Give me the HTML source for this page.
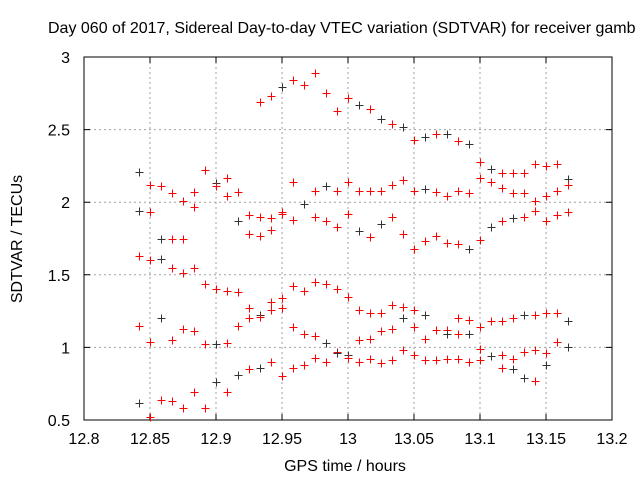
<!DOCTYPE html>
<html><head><meta charset="utf-8"><style>
html,body{margin:0;padding:0;background:#fff;width:640px;height:480px;overflow:hidden}
svg text{font-family:"Liberation Sans",sans-serif;font-size:16px;fill:#000}
</style></head><body>
<svg id="chart" width="640" height="480" xmlns="http://www.w3.org/2000/svg">
<text x="48" y="33">Day 060 of 2017, Sidereal Day-to-day VTEC variation (SDTVAR) for receiver gamb</text>
<g id="grid"></g>
<g id="axes"></g>
<g id="marks"></g>
<text x="345" y="471" text-anchor="middle">GPS time / hours</text>
<text transform="translate(22,239) rotate(-90)" text-anchor="middle">SDTVAR / TECUs</text>
</svg>
<script>
const xTicks=[12.8,12.85,12.9,12.95,13,13.05,13.1,13.15,13.2];
const xTickLabels=["12.8","12.85","12.9","12.95","13","13.05","13.1","13.15","13.2"];
const yTicks=[0.5,1,1.5,2,2.5,3];
const yTickLabels=["0.5","1","1.5","2","2.5","3"];
const startTime=12.8417;
const stepHours=0.008333;
const colValues=[
[2.21,1.94,1.63,1.15,0.62],[2.12,1.93,1.60,1.04,0.52],[2.11,1.75,1.61,1.20,0.64],[2.06,1.75,1.55,1.05,0.63],
[2.01,1.75,1.51,1.13,0.58],[2.07,1.97,1.55,1.11,0.69],[2.22,1.44,1.02,0.58],[2.13,2.11,1.40,1.02,0.76],
[2.17,2.04,1.39,1.03,0.69],[2.07,1.87,1.38,1.15,0.81],[1.91,1.78,1.27,1.20,0.85],[2.69,1.90,1.77,1.22,1.21,0.86],
[2.73,1.89,1.81,1.31,1.26,0.90],[2.79,1.93,1.92,1.34,1.27,0.80],[2.84,2.14,1.88,1.42,1.14,0.86],[2.81,1.99,1.39,1.09,0.88],
[2.89,2.08,1.90,1.45,1.08,0.93],[2.75,2.11,1.87,1.44,1.03,0.90],[2.63,2.08,1.83,1.40,0.97,0.96],[2.72,2.14,1.92,1.35,0.95,0.93],
[2.67,2.08,1.80,1.26,1.05,0.90],[2.64,2.08,1.76,1.24,1.06,0.92],[2.57,2.08,1.85,1.24,1.11,0.89],[2.54,2.12,1.90,1.29,1.13,0.91],
[2.52,2.15,1.78,1.28,1.20,0.98],[2.43,2.08,1.68,1.26,1.14,0.95],[2.45,2.09,1.73,1.22,1.06,0.91],[2.47,2.07,1.77,1.12,0.91],
[2.47,2.04,1.72,1.12,1.09,0.92],[2.42,2.08,1.71,1.20,1.09,0.92],[2.40,2.06,1.68,1.19,1.09,0.90],[2.28,2.17,1.74,1.14,0.99,0.91],
[2.23,2.14,1.83,1.18,0.94],[2.20,2.10,1.87,1.18,0.95,0.86],[2.20,2.06,1.89,1.20,0.92,0.85],[2.20,2.06,1.90,1.22,0.97,0.79],
[2.26,2.01,1.94,1.22,0.98,0.77],[2.25,2.04,1.87,1.24,0.96,0.88],[2.26,2.08,1.91,1.24,1.04],[2.16,2.12,1.93,1.18,1.00]];
const colBlack=[
[1,1,0,0,1],[0,0,0,0,0],[0,1,1,1,0],[0,0,0,0,0],[0,0,0,0,0],[0,0,0,0,0],[0,0,0,0],[1,0,0,1,1],
[0,0,0,0,0],[0,1,0,0,1],[0,0,0,0,0],[0,0,0,1,0,1],[0,0,0,0,0,0],[1,0,0,0,0,0],[0,0,0,0,0,0],[0,1,0,0,0],
[0,0,0,0,0,0],[0,1,0,0,1,0],[0,0,0,0,0,1],[0,0,0,0,1,0],[1,0,1,0,0,0],[0,0,0,0,0,0],[1,0,1,0,0,0],[0,0,0,0,0,0],
[1,0,0,0,1,0],[0,0,0,0,0,0],[1,1,0,1,0,0],[0,0,0,0,0],[1,0,0,0,1,0],[0,0,0,0,0,0],[1,0,1,0,1,0],[0,0,0,0,0,0],
[1,0,1,0,1],[0,0,0,0,0,0],[0,0,1,0,0,1],[0,0,0,1,0,1],[0,0,0,0,0,0],[0,0,0,0,0,1],[0,0,0,0,0],[1,0,0,1,1]];

const L=84,R=612,T=57,B=420,NS="http://www.w3.org/2000/svg";
function xs(v){return L+(v-12.8)/(13.2-12.8)*(R-L);}
function ys(v){return B-(v-0.5)/(3-0.5)*(B-T);}
function mk(tag,attrs,parent){const e=document.createElementNS(NS,tag);for(const k in attrs)e.setAttribute(k,attrs[k]);parent.appendChild(e);return e;}
const grid=document.getElementById('grid'),axes=document.getElementById('axes'),marks=document.getElementById('marks');
xTicks.forEach((t,i)=>{const x=xs(t);
 if(i>0&&i<xTicks.length-1){const g=mk('line',{x1:x,x2:x,y1:T,y2:B,stroke:'#a0a0a0','stroke-dasharray':'2,3'},grid);
 
 }
 const a=mk('path',{d:`M${x} ${B}v-6M${x} ${T}v6`,stroke:'#000'},axes);
 
 
 const tx=mk('text',{x:x,y:B+24,'text-anchor':'middle'},axes);tx.textContent=xTickLabels[i];
 
 });
yTicks.forEach((t,i)=>{const y=ys(t);
 if(i>0&&i<yTicks.length-1){const g=mk('line',{x1:L,x2:R,y1:y,y2:y,stroke:'#a0a0a0','stroke-dasharray':'2,3'},grid);
 
 }
 const a=mk('path',{d:`M${L} ${y}h6M${R} ${y}h-6`,stroke:'#000'},axes);
 
 
 const tx=mk('text',{x:L-14,y:y+6,'text-anchor':'end'},axes);tx.textContent=yTickLabels[i];
 
 });
const fr=mk('rect',{x:L,y:T,width:R-L,height:B-T,fill:'none',stroke:'#000'},axes);


colValues.forEach((col,i)=>{const x=Math.round(xs(startTime+i*stepHours))+0.5;
 col.forEach((v,k)=>{const y=Math.round(ys(v))+0.5;const blk=colBlack[i][k];
  const p=mk('path',{d:`M${x-4} ${y}h8M${x} ${y-4}v8`,stroke:blk?'#333':'#f00','stroke-width':1},marks);
  
  });});
</script>
</body></html>
